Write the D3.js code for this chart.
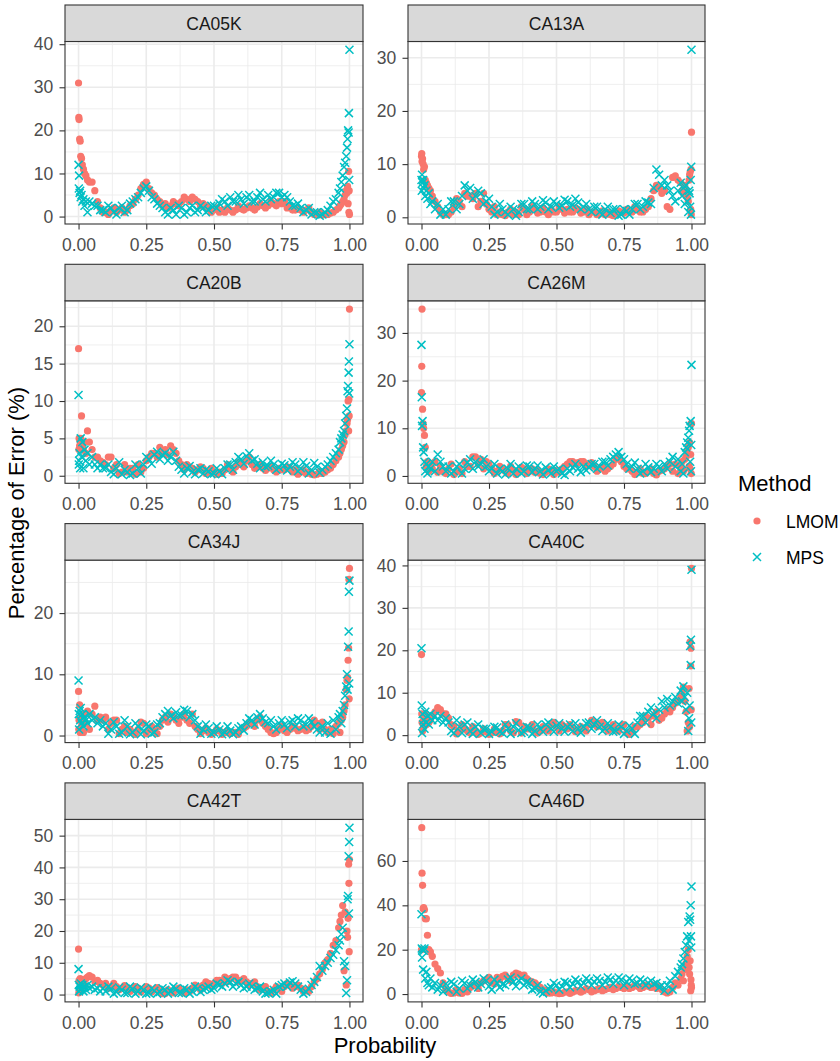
<!DOCTYPE html>
<html>
<head>
<meta charset="utf-8">
<script src="https://cdn.jsdelivr.net/npm/d3@7"></script>
<style>
  body { margin: 0; background: #fff; }
  text { font-family: "Liberation Sans", Arial, sans-serif; }
</style>
</head>
<body>
<div id="chart"></div>
<script>
// Datos: probabilidad comun y porcentaje de error por estacion y metodo
var panels = ["CA05K", "CA13A", "CA20B", "CA26M", "CA34J", "CA40C", "CA42T", "CA46D"];
var methods = ["LMOM", "MPS"];
var xTicks = [0, 0.25, 0.5, 0.75, 1];

// inicio, tramo central, final y tramo central intercalado
var probs = [0, 0.001, 0.002, 0.004, 0.006, 0.008, 0.011, 0.014, 0.018, 0.022, 0.027, 0.033, 0.04, 0.05, 0.06, 0.07, 0.08, 0.09,
  0.10, 0.12, 0.14, 0.16, 0.18, 0.20, 0.22, 0.24, 0.26, 0.28, 0.30, 0.32, 0.34, 0.36, 0.38, 0.40, 0.42, 0.44, 0.46, 0.48,
  0.50, 0.52, 0.54, 0.56, 0.58, 0.60, 0.62, 0.64, 0.66, 0.68, 0.70, 0.72, 0.74, 0.76, 0.78, 0.80, 0.82, 0.84, 0.86, 0.88, 0.90,
  0.91, 0.92, 0.93, 0.94, 0.95, 0.96, 0.965, 0.97, 0.975, 0.98, 0.984, 0.988, 0.991, 0.993, 0.995, 0.997, 0.998, 0.999, 1.0,
  0.11, 0.13, 0.15, 0.17, 0.19, 0.21, 0.23, 0.25, 0.27, 0.29, 0.31, 0.33, 0.35, 0.37, 0.39, 0.41, 0.43, 0.45, 0.47, 0.49,
  0.51, 0.53, 0.55, 0.57, 0.59, 0.61, 0.63, 0.65, 0.67, 0.69, 0.71, 0.73, 0.75, 0.77, 0.79, 0.81, 0.83, 0.85, 0.87, 0.89];

var lmomCA05K = [31,23,22.5,18,17.5,14,13.5,12,11,10,9.5,8.5,8,8,6,3.5,2,1,
  1,1.5,1,2,1.5, 3,5,7.5,6.5,5, 3.5,3,2.5,3,3.5, 4,4.5,3.5,3,2, 1.5,1,1,1.5,1.5, 1.8,2,2,2.2,2.5, 2.5,3,3.5,3.5,2.5, 1.5,1.5,1.5,1,0.5, 0.3,
  0.5,0.5,0.8,1,1.5,2,2.5,3,3.5,4,5,6,5.5,7,3,10.5,1,6,0.5,
  0.5,2,1.5,1,2.5, 4,6.5,8,5.5,4, 2.5,2,3.5,2.5,4.5, 3.5,4,2.5,2.5,1, 2,1.5,2,1,2.5, 1.5,2.5,1.5,3,2, 3.5,2.5,3,2,1.5, 2,1,2,0.5,1];
var mpsCA05K = [12,6.5,9.5,5.5,6,4.5,5,3.5,4,2.5,3.5,1,3.5,3,2.5,2.5,1.5,1.5,
  1,2,0.5,2.5,1.5, 3.5,4.5,6.5,6,4, 2.5,1,2,0.5,2, 1,2.5,1.5,2,1.5, 2.5,3,3.5,4.5,3.5, 4,4.5,3.5,4.5,4, 5,4.5,5.5,5,3.5, 2.5,2,1.5,0.5,1, 0.5,
  1,1.5,2.5,3.5,4,5.5,6.5,8,9.5,11.5,12.5,14,16,18,20,19.5,24,8.5,38.7,
  2.5,1,2,1,3, 4,5.5,7,4.5,3, 2,0.5,1.5,2.5,0.5, 2,1,2.5,1,2.5, 2,4,2.5,3.5,5, 3,5,3.5,5.5,3.5, 4,5.5,4.5,4.5,2.5, 3,1,2,1,0.2];

var lmomCA13A = [11.5,12,10.5,11,10,9,9.5,7,6.5,6,5.5,5,4,3,2,1,0.5,0.5,
  0.5,2,3,4.5,4, 4.5,3,2.5,1,0.5, 0.5,1,0.5,0.5,1.5, 1,1.5,1,1,1.5, 1,1.5,1.5,1,1.5, 1,0.5,1,0.8,0.5, 0.5,0.8,1,1.5,1, 1.5,1,2,5,5.5, 5,
  2,1.5,7.5,7.8,7,6.5,5,4.5,6,5,4,3,7,8,8.5,1.5,9,0.5,16,
  1,3.5,2,4,3.5, 2,4.5,1.5,2,1, 0.3,1.5,1,2,0.5, 2,0.8,1.8,0.5,1, 2,0.8,1,1.8,0.8, 1.5,1,0.5,1.2,1, 0.3,1.2,0.8,1,2, 1,1.5,3.5,6,4.5];
var mpsCA13A = [7,5,8,6.5,7,5.5,6,4,5,3.5,4.5,2.5,3,1.5,2.5,0.5,1.5,0.5,
  1.5,3,2.5,6,5.5, 4,4.5,3,2,1, 1.5,0.5,1.5,1,2.5, 1.5,2.5,2,2.8,2, 2.5,2.2,3,2.3,2.8, 2,1.5,2,1,1.5, 0.8,1.5,0.5,1.2,1.5, 2.5,2,2.8,5.5,8, 7,
  6,5,4,3,5,6.5,4,5.5,2.5,6,3,1,5,4.5,2,7,0.5,9.5,31.5,
  3,1.5,4,5,3.5, 5,2.5,3.5,0.5,2.5, 1,2,0.3,2.5,1.5, 3,1.5,3.2,1.5,3, 1.8,3.3,2,3.5,1.5, 2.5,1,2,0.5,2, 1.5,0.3,1.5,0.5,2.5, 1.5,3,2.5,9,6];

var lmomCA20B = [17,3.5,5,4,4.5,5,8,4,3.5,4.5,3,6,4.5,3.5,2.5,2.5,2,1.8,
  1.5,2.5,1.5,0.5,0.5, 1,1.5,1,2.5,3, 3.8,3.5,4,3,1.5, 1.5,1,0.8,1,0.5, 0.5,0.5,0.8,1,1.2, 1.5,2,1.5,1.2,1, 1,0.8,1,0.8,1, 0.8,0.5,0.3,0.2,0.2, 0.3,
  0.5,0.8,1,1.5,2,2.5,3,3.5,4,4.5,5.5,6,7,7.5,10,6,10.2,8,22.3,
  2.5,1,0.3,1.5,1, 0.2,0.5,2,3,2.5, 3,2.8,3.5,2,0.8, 1.2,0.5,1.2,0.3,1, 0.2,0.3,1.5,0.5,1.8, 1.2,2.5,1,1.5,0.7, 1.2,0.5,0.8,1.2,0.5, 0.2,0.8,0.5,0.1,0.6];
var mpsCA20B = [10.8,1.5,2,3,1,5,2.5,4.5,1,3.5,2,3,1.5,2.5,1.5,1,1.5,1,
  1,0.5,1,0.2,0.5, 0.3,1,1.5,2.2,2.8, 2.2,3,2.5,2,0.8, 1,0.5,0.8,0.3,0.6, 0.3,0.6,1,1.5,1.8, 2.2,2.6,2,1.6,1.8, 1.3,1.5,1.1,1.4,1.2, 1.5,1,1.3,0.8,1.2, 0.8,
  1.2,1.5,2,2.5,3,3.5,4.5,5,5.5,6,7,8,9,11.3,12,13.8,15.3,11,17.6,
  1.5,0.2,1.8,0.8,0.1, 1.5,0.3,2.5,1.6,3.2, 2.8,2,3.2,1.2,0.3, 1.3,0.2,1,0.8,0.2, 1,0.2,1.5,0.8,2.5, 1.6,3,2.2,1,1.2, 2,0.8,1.6,0.7,1.8, 0.6,1.8,0.3,1.7,0.4];

var lmomCA26M = [17.5,23,35,14,11,10,8.5,6,2,3,1,2.5,1.5,3,0.8,2,1,0.5,
  1.5,0.3,1.5,3,2, 4,3.5,3,1.5,1, 1.5,0.5,1.2,1,1.5, 1,0.8,0.5,0.8,1, 1.2,1.5,2.5,3,2.8, 3,2.5,2,1.5,1, 2,3.5,3,1.5,1, 0.8,0.5,1,0.5,1, 1.5,
  2,2.5,1,2.5,0.5,2,3,1,3.5,4,5,6,2,7,1.5,4.5,11,0.5,11,
  2.5,1,0.5,2,4, 2.5,1.5,2.5,0.5,2, 1,2,0.3,1.8,0.5, 1.5,1.2,0.3,1.5,0.3, 0.8,2,3,2.5,3, 2,2.8,1,1.8,1.5, 2.5,4,2,1.5,0.3, 1.5,0.5,1.5,0.2,1.2];
var mpsCA26M = [27.5,16.5,10.5,11.5,6,5,3,1,2.5,0.5,2,1.5,3,1,4.5,3,2,1,
  2,1,2.5,1.5,3.5, 3,2.5,2,1.5,0.5, 1,1.5,0.5,2,1, 2,1.5,1,1.8,0.5, 1,0.5,1.5,1.8,1.5, 2,1.8,2.5,2,3, 3.5,4.5,4,2.5,2, 1.5,1,1.8,1.5,2, 2.5,
  1.5,3,4,2,3.5,1,2.5,0.5,5,6,7,8,9.5,10.5,3,11.5,1,6.5,23.3,
  0.5,2,0.5,2.8,1.5, 2,3.5,1,2.5,1.5, 0.3,2.5,1.5,0.5,2.2, 0.8,2.2,0.3,1.2,2, 1.5,0.2,1,2.5,0.8, 1.2,2.5,1.5,3,2.2, 4,5,3.5,1.5,2.8, 0.5,2.5,0.8,2.5,1];

var lmomCA34J = [7.2,1,2.5,5,0.5,3,1.5,2,0.5,3.5,2,4,1,3.5,4.8,2.5,3,2.5,
  3,2,2.5,1,0.5, 0.5,1,2,1,0.8, 1.5,3,3.5,2.5,3, 2.5,3.5,1,0.8,0.5, 0.5,0.8,0.5,0.3,0.5, 1,1.5,2,2.5,2, 1,0.3,1,0.8,1, 1.2,1,0.8,1.5,2, 2.2,
  1,0.5,1,0.3,1.5,2,0.5,2.5,3,4,5,7.5,9,9.5,12.3,14.3,25.5,6,27.3,
  1,2.5,0.3,1.5,1, 0.2,2.2,0.3,1.5,0.3, 2.5,2.2,3,2,3.5, 2,1.5,0.3,1.2,0.2, 1,0.2,0.8,0.5,0.2, 1.2,2.2,1.5,3,1.5, 0.5,0.5,1.5,0.5,1.5, 0.8,1.3,1,2.5,1];
var mpsCA34J = [9,3.5,1,4,2.5,4.5,2,3.5,1.5,3,2.5,2,3.5,2.5,3,2,2.5,1.5,
  2,1,1.5,0.5,1.5, 0.5,1.5,0.8,1.5,0.5, 2,3.5,3.2,3.8,3.3, 4,3.5,1.5,1,1.2, 0.5,1,0.5,0.8,0.5, 1.5,2,2.5,3,2.8, 2,1.5,2,1.8,2.2, 1.5,2.5,1.8,2.2,1, 1.5,
  0.5,2,0.3,2.5,1,3,3.5,2,4,5,6.5,8,10,7.5,14.5,17,23.5,8.5,25.3,
  0.3,2.2,0.3,2.5,0.2, 2,0.2,1.8,0.3,1.8, 3,4,2.8,3.3,4.2, 3,2.5,0.3,1.8,0.3, 1.5,0.2,1.5,0.2,1.2, 0.8,2.8,1.8,3.5,2.2, 2.5,1,2.5,1.2,2.5, 2.8,1.5,2.8,1.5,0.5];

var lmomCA40C = [19,5,3,1,4.5,2,3.5,5,2.5,4,3,3.5,4.5,5.5,6.5,6,5,5,
  4,2,1,1.5,0.5, 1,0.5,0.8,0.5,0.8, 1,2.5,0.5,3,2, 1.5,1,1,1.5,2.5, 2,2.5,1.5,1.8,1, 1.5,2.5,3,2.8,2, 1.5,1.5,2,0.5,1, 2,3,4,4.5,3.5, 5,
  6,5.5,6.5,7.5,8,9,10,11.3,8,5.5,1,3,11,2,22,16.3,20.5,6,39.3,
  2.5,0.3,2.5,1,2, 0.2,1.5,0.2,1.5,0.3, 2.5,1,3.2,0.5,1.5, 2.5,0.5,2,1,3, 1,2,2.5,0.8,2, 1,3.5,2,3,1, 2.5,1,2.5,0.2,2, 2.5,4.5,2.5,5.5,4];
var mpsCA40C = [20.5,7,0.5,5,2.5,3.5,1.5,5.5,3,4.5,2.5,5,3.5,4.5,3.5,4.5,3,4,
  3,0.5,2,2.5,1, 2,0.5,1.5,0.8,1.8, 0.5,1.5,2,1.2,0.8, 1.8,1,1.5,2.5,1.5, 2.2,1.5,2,1,1.5, 2,3,2.5,2,1.5, 2,1,2,1,1.5, 3,4.5,5.5,5,6, 6.5,
  8.5,7,8,9,7.5,10.5,8,11.5,9,6,10,1,4,7,21,16.5,22.5,3,39,
  1,3.5,0.5,3,0.3, 2.5,1.5,0.3,2,0.8, 2.5,0.3,2.8,0.5,2, 0.3,2.5,0.8,3,0.8, 2.8,0.8,2.5,2.8,0.6, 2.8,1.5,3.5,1,2.8, 0.8,2.5,0.3,2.2,0.3, 4.5,3,6.5,4,8];

var lmomCA42T = [14.3,0.5,4.5,2,5,3,4.5,2.5,4,3,5,5.5,6,5.5,4,4.5,3.5,3,
  3.5,2.5,2.5,2,2, 1.5,2,1.5,2,1.5, 1,0.3,1,1.5,1, 1.5,2,2.5,3,3.5, 3.5,4.5,5.5,5,5.5, 4.5,4,3.5,2.5,2, 1,1.5,2,2.5,3, 2.5,2,1.5,2.5,5, 8,
  10,11,13,15.5,17,21,23,25,28,7.5,26,3,20,18,24,41,35,13.5,42.5,
  2,3.5,1.5,2.8,1, 2.5,0.8,2.5,0.8,2.2, 0.3,1.5,0.5,2,0.5, 1,3,1.5,4,2.5, 4.5,3.5,4,5.5,4, 5,3,4,1.5,2.5, 0.5,2.5,1,3.5,2, 3,1,1,4,6.5];
var mpsCA42T = [8,3,1,2.5,1.5,3.5,2,3,1,2.5,1.5,3,2,2.5,1.5,2,1,2,
  1,1.8,0.8,1.5,0.5, 1.8,1,1.5,0.5,1.2, 0.8,1.5,1,1.8,0.5, 1.5,1,1.8,1.5,2.5, 2,3,3.5,4,3.5, 3,2.5,2.5,2,1, 0.5,1.5,2.5,3.5,3.8, 3.5,1.5,0.8,3,5.5, 7.5,
  9,10,11.5,12.5,14,15.5,17,19,21,10.5,9,0.5,4.5,30,31,43.5,25.5,48,52.5,
  2.5,0.3,2.2,0.5,2.5, 0.3,2.2,0.3,2,0.3, 2,0.3,2.5,0.5,2, 0.3,2.5,0.8,2,1.5, 3.5,2.5,4.5,2.5,4, 2,3.5,1.5,2.5,0.3, 1,0.3,3,2.5,4.2, 2.5,0.3,1.8,4,9];

var lmomCA46D = [20,75,54.5,49,38.5,39,38,34,34,26.5,20,19,17,13.5,11.5,9.5,5,2,
  1,0.5,0.5,2,3, 4,5,6.5,5,7.5, 8,7,8.5,9,8.5, 6,5,3,1.5,0.5, 0.5,0.3,1,0.8,1.5, 1.5,2,1.5,2.5,2, 3,2.5,3,3.5,3, 3.5,3,3.5,4,3.5, 1,
  0.5,1,3,5,4,7,9,6,11,14,17,20,12,9,15,1.5,6.5,4,3,
  0.3,2,0.3,1,4, 2.5,6,7.5,4.5,6.5, 8.5,6,9.5,8,7, 5.5,4,2,0.5,1, 0.2,0.8,0.3,1.5,0.8, 2.5,1,2,1.5,2.5, 2,3.5,2.5,2.5,4, 2.5,4,3,2.5,2];
var mpsCA46D = [36,20.5,16.5,20,11,19.5,20.5,7,10,5,4,7,3,5,2,4,1,4.5,
  2,4.5,2.5,5,4, 5.5,4.5,6,2,5, 4.5,6.5,5.5,6,4, 5,2.5,1,1.5,3, 4,3.5,5,4.5,5.5, 5,6,5.5,6,5.5, 6.5,6,6.5,5.5,6, 5,5.5,5,4.5,3, 1.5,
  4,6,2,8,10,12,13.5,16,19,22,26,32.5,24,35,33.5,40,26,21,48.5,
  5.5,1,6,2.5,6.5, 3,7,3.5,6.5,3, 4,7.5,3.5,7,5.5, 2,4,0.3,2.5,5, 2,5.5,3,6.5,3.5, 7,4,7,4,7.5, 4.5,7.5,4,7,4.5, 6.5,4,6,5,4];

// Marcas del eje Y de cada panel (escalas libres)
var yTicksCA05K = [0, 10, 20, 30, 40];
var yTicksCA13A = [0, 10, 20, 30];
var yTicksCA20B = [0, 5, 10, 15, 20];
var yTicksCA26M = [0, 10, 20, 30];
var yTicksCA34J = [0, 10, 20];
var yTicksCA40C = [0, 10, 20, 30, 40];
var yTicksCA42T = [0, 10, 20, 30, 40, 50];
var yTicksCA46D = [0, 20, 40, 60];

var facets = [
  {name: panels[0], lmom: lmomCA05K, mps: mpsCA05K, ticks: yTicksCA05K},
  {name: panels[1], lmom: lmomCA13A, mps: mpsCA13A, ticks: yTicksCA13A},
  {name: panels[2], lmom: lmomCA20B, mps: mpsCA20B, ticks: yTicksCA20B},
  {name: panels[3], lmom: lmomCA26M, mps: mpsCA26M, ticks: yTicksCA26M},
  {name: panels[4], lmom: lmomCA34J, mps: mpsCA34J, ticks: yTicksCA34J},
  {name: panels[5], lmom: lmomCA40C, mps: mpsCA40C, ticks: yTicksCA40C},
  {name: panels[6], lmom: lmomCA42T, mps: mpsCA42T, ticks: yTicksCA42T},
  {name: panels[7], lmom: lmomCA46D, mps: mpsCA46D, ticks: yTicksCA46D}
];

// Lienzo
var width = 840;
var height = 1061;
var colorL = "#F8766D";
var colorM = "#00BFC4";
var crossPath = "M-4,-4L4,4M-4,4L4,-4";
var dotR = 3.6;

var svg = d3.select("#chart")
            .append("svg")
            .attr("width", width)
            .attr("height", height);

svg.append("rect").attr("width", width).attr("height", height).attr("fill", "white");

var colLeft = [65, 408];
var colWidth = [298, 297];
var stripH = 36.5;

facets.forEach(function(f, k) {
    var row = Math.floor(k / 2), col = k % 2;
    var x0 = colLeft[col], x1 = x0 + colWidth[col];
    var top = 5 + row * 259.3;
    var pTop = top + stripH, pBot = top + 219;

    var all = f.lmom.concat(f.mps);
    var lo = d3.min(all), hi = d3.max(all), pad = (hi - lo) * 0.05;

    var x = d3.scaleLinear().domain([-0.05, 1.05]).range([x0, x1]);
    var y = d3.scaleLinear().domain([lo - pad, hi + pad]).range([pBot, pTop]);

    var g = svg.append("g");

    // Rejilla menor y mayor
    var step = f.ticks[1] - f.ticks[0];
    var yMinor = f.ticks.map(function(t) { return t - step / 2; })
                   .concat([f.ticks[f.ticks.length - 1] + step / 2])
                   .filter(function(t) { return t > y.domain()[0] && t < y.domain()[1]; });
    var xMinor = [0.125, 0.375, 0.625, 0.875];

    g.selectAll(".ymin").data(yMinor).enter().append("line")
        .attr("x1", x0).attr("x2", x1)
        .attr("y1", function(d) { return y(d); }).attr("y2", function(d) { return y(d); })
        .attr("stroke", "#EBEBEB").attr("stroke-width", 0.8);
    g.selectAll(".xmin").data(xMinor).enter().append("line")
        .attr("y1", pTop).attr("y2", pBot)
        .attr("x1", function(d) { return x(d); }).attr("x2", function(d) { return x(d); })
        .attr("stroke", "#EBEBEB").attr("stroke-width", 0.8);
    g.selectAll(".ymaj").data(f.ticks).enter().append("line")
        .attr("x1", x0).attr("x2", x1)
        .attr("y1", function(d) { return y(d); }).attr("y2", function(d) { return y(d); })
        .attr("stroke", "#EBEBEB").attr("stroke-width", 1.6);
    g.selectAll(".xmaj").data(xTicks).enter().append("line")
        .attr("y1", pTop).attr("y2", pBot)
        .attr("x1", function(d) { return x(d); }).attr("x2", function(d) { return x(d); })
        .attr("stroke", "#EBEBEB").attr("stroke-width", 1.6);

    // Puntos LMOM (circulos) y MPS (cruces)
    g.append("g").selectAll("circle")
        .data(f.lmom).enter().append("circle")
        .attr("cx", function(d, i) { return x(probs[i]); })
        .attr("cy", function(d) { return y(d); })
        .attr("r", dotR)
        .attr("fill", colorL);

    g.append("g").selectAll("path")
        .data(f.mps).enter().append("path")
        .attr("d", crossPath)
        .attr("transform", function(d, i) { return "translate(" + x(probs[i]) + "," + y(d) + ")"; })
        .attr("fill", "none")
        .attr("stroke", colorM)
        .attr("stroke-width", 1.5);

    // Borde del panel
    g.append("rect")
        .attr("x", x0).attr("y", pTop).attr("width", x1 - x0).attr("height", pBot - pTop)
        .attr("fill", "none").attr("stroke", "#333333").attr("stroke-width", 1.1);

    // Cabecera
    g.append("rect")
        .attr("x", x0).attr("y", top).attr("width", x1 - x0).attr("height", stripH)
        .attr("fill", "#D9D9D9").attr("stroke", "#333333").attr("stroke-width", 1.1);
    g.append("text")
        .attr("x", (x0 + x1) / 2).attr("y", top + stripH / 2 + 6.3)
        .attr("text-anchor", "middle")
        .attr("fill", "#1A1A1A")
        .style("font-size", "17.5px")
        .text(f.name);

    // Ejes
    var ax = g.append("g")
        .attr("transform", "translate(0," + pBot + ")")
        .call(d3.axisBottom(x).tickValues(xTicks).tickFormat(d3.format(".2f")).tickSize(5.5).tickPadding(8.8));
    var ay = g.append("g")
        .attr("transform", "translate(" + x0 + ",0)")
        .call(d3.axisLeft(y).tickValues(f.ticks).tickFormat(d3.format("d")).tickSize(5.5).tickPadding(6.2));

    [ax, ay].forEach(function(a) {
        a.attr("font-family", null).attr("font-size", null);
        a.select(".domain").remove();
        a.selectAll("line").attr("stroke", "#333333").attr("stroke-width", 1.1);
        a.selectAll("text").attr("fill", "#4D4D4D").style("font-size", "17.5px");
    });
});

// Titulos de ejes
svg.append("text")
    .attr("x", 385).attr("y", 1053)
    .attr("text-anchor", "middle")
    .attr("fill", "black")
    .style("font-size", "22px")
    .text("Probability");

svg.append("text")
    .attr("transform", "translate(24,503) rotate(-90)")
    .attr("text-anchor", "middle")
    .attr("fill", "black")
    .style("font-size", "22px")
    .text("Percentage of Error (%)");

// Leyenda
var legend = svg.append("g");
legend.append("text")
    .attr("x", 738).attr("y", 491)
    .attr("fill", "black")
    .style("font-size", "22px")
    .text("Method");

legend.append("circle").attr("cx", 757).attr("cy", 521).attr("r", dotR).attr("fill", colorL);
legend.append("path").attr("d", crossPath).attr("transform", "translate(757,557)")
    .attr("fill", "none").attr("stroke", colorM).attr("stroke-width", 1.5);

legend.selectAll(".lab").data(methods).enter().append("text")
    .attr("x", 786)
    .attr("y", function(d, i) { return 528 + i * 36; })
    .attr("fill", "black")
    .style("font-size", "17.5px")
    .text(function(d) { return d; });
</script>
</body>
</html>
